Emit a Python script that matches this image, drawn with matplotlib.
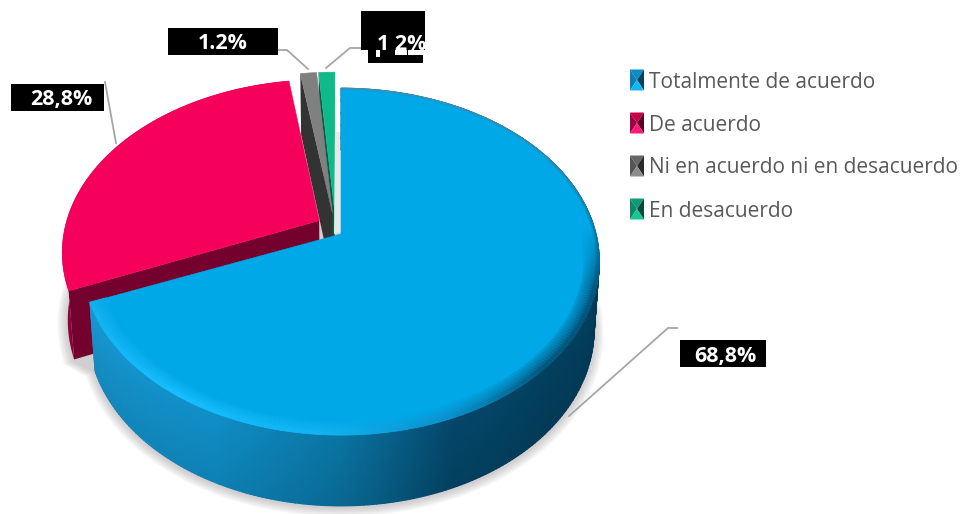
#!/usr/bin/env python
#
# Extruded pie of survey agreement levels, with boxed labels and a legend
#
import numpy as np
import matplotlib
matplotlib.use('Agg')
import matplotlib.pyplot as plt
from matplotlib.patches import Rectangle

categories = ['Totalmente de acuerdo', 'De acuerdo',
              'Ni en acuerdo ni en desacuerdo', 'En desacuerdo']
shares = [68.8, 28.8, 1.2, 1.2]
share_labels = ['68,8%', '28,8%', '1.2%', '1 2%']

top_colors = ['#00a8e8', '#f5005a', '#808080', '#10b98a']
face_colors = ['#035a80', '#74002e', '#333333', '#0b5c47']
legend_shades = [
    ('#0a8cc6', '#0b7fb5', '#04405f', '#12b8f5'),
    ('#c4004a', '#a00040', '#5a0026', '#ff1a78'),
    ('#666666', '#555555', '#2a2a2a', '#8c8c8c'),
    ('#0e9a75', '#0b8a68', '#074a38', '#16c795'),
]
explode = [0.0, 0.09, 0.13, 0.13]
nudge_x = [0, -2, -5, -5]
nudge_y = [0, -3, 0, 0]
apex_y = [0, -3, 0, 0]

# disc projection, pixel units
CX, CY = 341, 234
RX, RY = 255, 169
PERSP = 0.159
SHRINK = 0.98

FONT = 'Open Sans'


def project(u, v):
    w = 1 + PERSP * np.asarray(v)
    return CX + RX * np.asarray(u) / w, CY - RY * np.asarray(v) / w


def drop(x, y, v):
    # point on the underside of the disc
    return CX + SHRINK * (x - CX), CY + SHRINK * (y - CY) + 67 - 8 * np.asarray(v)


def rim(start, stop, off, nudge, r=1.0, n=200, lift=0):
    t = np.linspace(start, stop, n)
    u = r * np.sin(np.radians(t)) + off[0]
    v = r * np.cos(np.radians(t)) + off[1]
    x, y = project(u, v)
    return t, x + nudge, y + lift, v


def channel_mix(t, stops):
    at = [s[0] for s in stops]
    rgb = np.array([matplotlib.colors.to_rgb(s[1]) for s in stops])
    return np.stack([np.interp(t, at, rgb[:, i]) for i in range(3)], axis=-1)


fig = plt.figure(figsize=(9.66, 5.14), dpi=100)
ax = fig.add_axes([0, 0, 1, 1])
ax.set_xlim(0, 966)
ax.set_ylim(514, 0)
ax.axis('off')

edges = np.cumsum([0] + shares) / sum(shares) * 360
offsets = []
for i in range(len(shares)):
    mid = np.radians((edges[i] + edges[i + 1]) / 2)
    offsets.append((explode[i] * np.sin(mid), explode[i] * np.cos(mid)))

# soft ground shadow under the disc
t, x, y, v = rim(edges[0], edges[1], offsets[0], 0)
bx, by = drop(x, y, v)
t2, x2, y2, v2 = rim(edges[1], edges[1] + 30, offsets[1], nudge_x[1], lift=nudge_y[1])
bx2, by2 = drop(x2, y2, v2)
sx = np.r_[bx, bx2]
sy = np.r_[by, by2]
for k in range(10):
    g = 1 + 0.0038 * (10 - k)
    ax.fill(CX + g * (sx - CX), 262 + g * (sy - 262) + 1.5, color='#6f6a6f',
            alpha=0.035, lw=0, zorder=1)

# back slices first so the front slice covers their inner corners
for i in [3, 2, 1]:
    off = offsets[i]
    t, x, y, v = rim(edges[i], edges[i + 1], off, nudge_x[i], lift=nudge_y[i])
    ax0, ay0 = project(off[0], off[1])
    ax0 += nudge_x[i]
    ay0 += nudge_y[i] + apex_y[i]
    bx, by = drop(x, y, v)
    abx, aby = drop(ax0, ay0, off[1])
    ax.fill([x[0], ax0, abx, bx[0]], [y[0], ay0, aby, by[0]],
            color=face_colors[i], lw=0, zorder=2 + (3 - i))
    if i == 1:
        ax.fill(np.r_[x, bx[::-1]], np.r_[y, by[::-1]], color='#8e0038', lw=0, zorder=2)
    ax.fill(np.r_[ax0, x], np.r_[ay0, y], color=top_colors[i],
            ec=top_colors[i], lw=0.4, zorder=6 + (3 - i))

# pale strip beside the front slice's cut edge
ax.fill([335, 341, 341, 334], [132, 132, 232, 234], color='#e8e8e8', lw=0, zorder=10)

# front slice: side wall, then top, then bevel around the rim
side_stops = [(0, '#0a6f98'), (95, '#023f5e'), (132, '#03405f'), (158, '#04476a'),
              (180, '#0a74a2'), (205, '#0f8fc8'), (248, '#1898d2')]
inner_stops = [(0, '#00a8e8'), (88, '#00a8e8'), (108, '#03577d'), (135, '#03587e'),
               (158, '#0a90cb'), (185, '#12b4f2'), (215, '#18bdfd'), (248, '#12b0ee')]
outer_stops = [(0, '#4d8aa8'), (60, '#3a80a0'), (92, '#0a6f98'), (108, '#03567c'),
               (135, '#03587e'), (158, '#0a90cb'), (185, '#12b4f2'), (215, '#18bdfd'),
               (248, '#12b0ee')]

t, x, y, v = rim(edges[0], edges[1], offsets[0], 0, n=300)
bx, by = drop(x, y, v)
levels = np.linspace(0, 1, 6)
X = np.stack([x + s * (bx - x) for s in levels])
Y = np.stack([y + s * (by - y) for s in levels])
C = np.stack([channel_mix(t, side_stops) * (1 - 0.10 * s) for s in levels])
ax.pcolormesh(X, Y, C, shading='gouraud', zorder=11)

ax.fill(np.r_[CX, x], np.r_[CY, y], color=top_colors[0], ec=top_colors[0], lw=0.4, zorder=12)

top_rgb = np.array(matplotlib.colors.to_rgb(top_colors[0]))
ring_x, ring_y, ring_c = [], [], []
for r, shade in zip([0.94, 0.988, 1.0], [None, inner_stops, outer_stops]):
    _, rx, ry, _ = rim(edges[0], edges[1], offsets[0], 0, r=r, n=300)
    ring_x.append(rx)
    ring_y.append(ry)
    ring_c.append(np.tile(top_rgb, (t.size, 1)) if shade is None else channel_mix(t, shade))
ax.pcolormesh(np.stack(ring_x), np.stack(ring_y), np.stack(ring_c),
              shading='gouraud', zorder=13)

# leader lines
leaders = [([677, 668, 569], [328, 328, 416]),
           ([105, 116], [82, 143]),
           ([278, 287, 308], [50, 50, 69]),
           ([361, 350, 326], [48, 48, 68])]
for lx, ly in leaders:
    ax.plot(lx, ly, color='#a6a6a6', lw=1.3, zorder=14, solid_joinstyle='miter')

# boxed value labels
boxes = [(680, 340, 86, 27), (11, 84, 93, 27), (168, 28, 110, 27)]
anchors = [(725, 362), (61, 105), (223, 49)]
for i, (b, c) in enumerate(zip(boxes, anchors)):
    ax.add_patch(Rectangle((b[0], b[1]), b[2], b[3], fc='black', ec='none', zorder=15))
    ax.text(c[0], c[1], share_labels[i], color='white', fontsize=15.5, fontweight='bold',
            family=FONT, ha='center', va='baseline', zorder=16)

# the last label sits on two overlapping boxes, cut off at the right
ax.add_patch(Rectangle((361, 11), 64, 39, fc='black', ec='none', zorder=15))
ax.add_patch(Rectangle((368, 50), 55, 13, fc='black', ec='none', zorder=15))
for wx, wy, ww, wh in [(376, 50, 4, 7), (395, 50, 12, 5), (408, 50, 15, 5)]:
    ax.add_patch(Rectangle((wx, wy), ww, wh, fc='white', ec='none', zorder=16))
clip = Rectangle((361, 11), 64, 52, transform=ax.transData)
ax.text(377, 50, share_labels[3], color='white', fontsize=15.5, fontweight='bold',
        family=FONT, ha='left', va='baseline', zorder=17, clip_path=clip, clip_on=True)

# legend
legend_y = [80, 123, 166, 209]
legend_base = [88, 131, 173, 217]
for name, ly, base, shade in zip(categories, legend_y, legend_base, legend_shades):
    l, r, u, d = 630, 644, ly - 10.5, ly + 10.5
    mx, my = (l + r) / 2, ly
    ax.fill([l, r, mx], [u, u, my], color=shade[0], lw=0, zorder=15)
    ax.fill([l, l, mx], [u, d, my], color=shade[1], lw=0, zorder=15)
    ax.fill([r, r, mx], [u, d, my], color=shade[2], lw=0, zorder=15)
    ax.fill([l, r, mx], [d, d, my], color=shade[3], lw=0, zorder=15)
    ax.text(649, base, name, color='#595959', fontsize=15, family=FONT,
            ha='left', va='baseline', zorder=15)

fig.savefig('out.png', dpi=100)
